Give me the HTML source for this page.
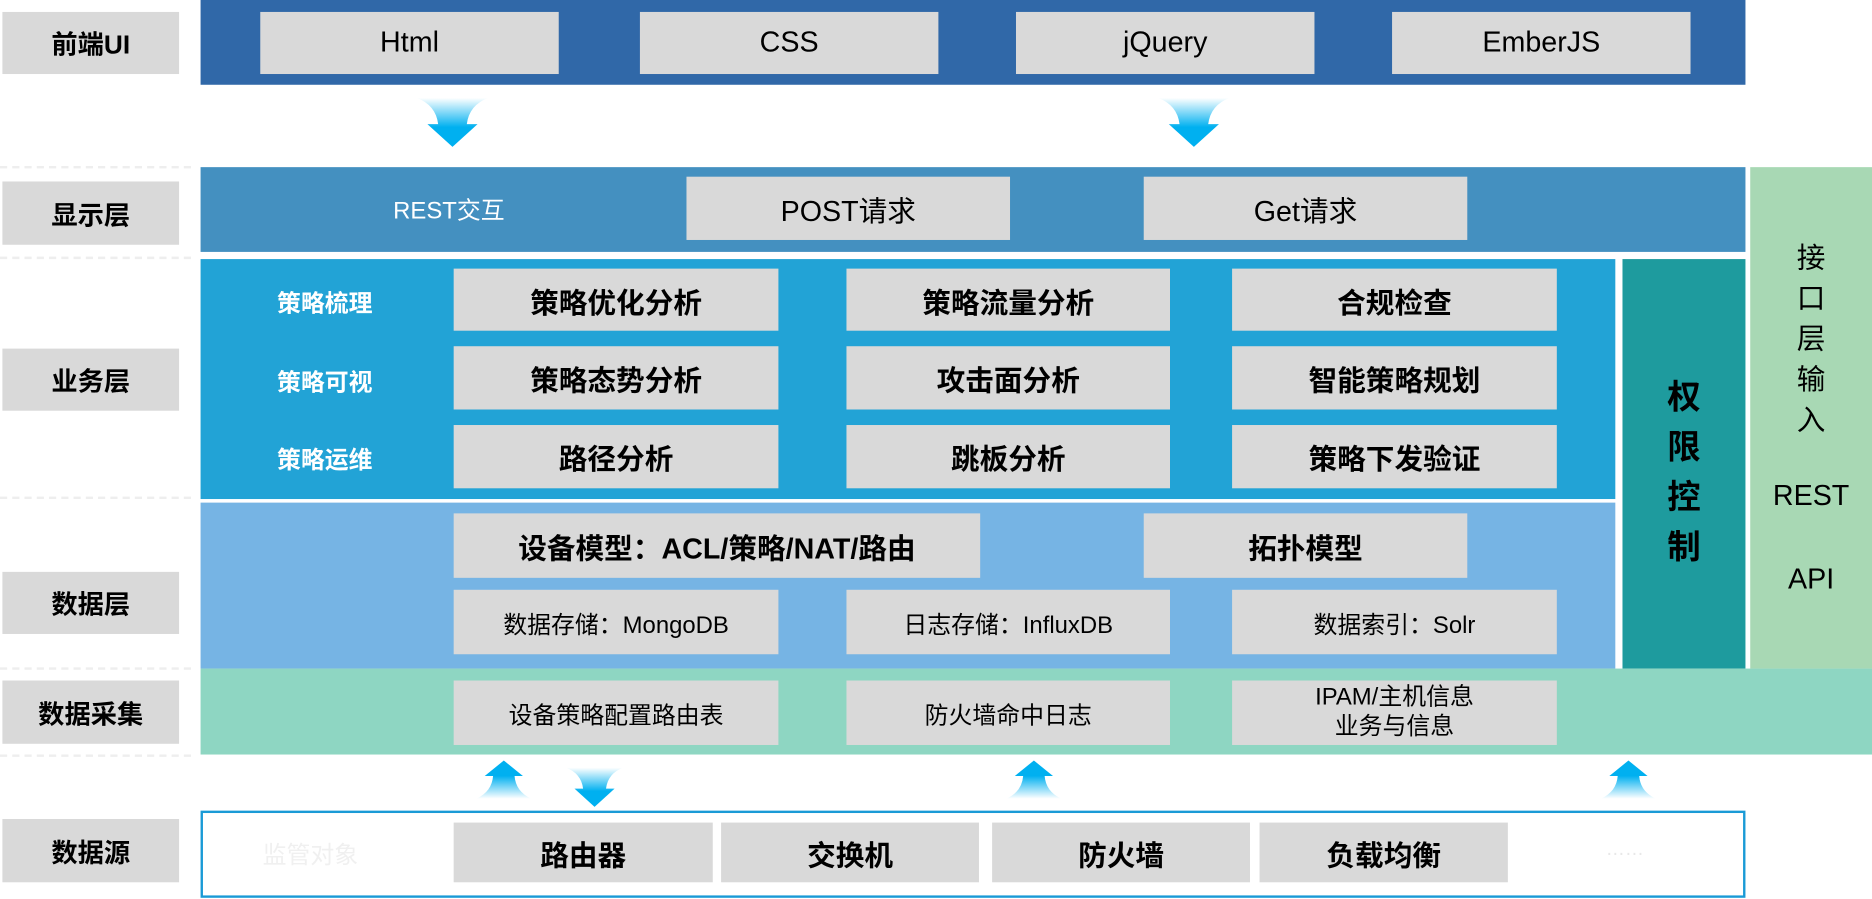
<!DOCTYPE html>
<html><head><meta charset="utf-8"><style>
html,body{margin:0;padding:0;background:#fff;overflow:hidden}
#w{position:relative;width:1568px;height:753px;transform:scale(1.19388);transform-origin:0 0;font-family:"Liberation Sans","Noto Sans CJK SC",sans-serif}
.a{position:absolute;box-sizing:border-box}
.b{position:absolute;background:#d9d9d9;display:flex;align-items:center;justify-content:center;color:#000;text-align:center;box-sizing:border-box}
.l{font-size:22px;font-weight:bold}
.t{font-size:24px}
.k{font-size:24px;font-weight:bold}
.s{font-size:20px}
.wt{position:absolute;color:#fff;font-size:20px;font-weight:bold}
.d{position:absolute;left:0;width:160px;border-top:2px dashed #eee}
</style></head><body><div id="w">
<!-- left labels -->
<div class="b l" style="left:2px;top:10px;width:148px;height:52px">前端UI</div>
<div class="b l" style="left:2px;top:152px;width:148px;height:53px">显示层</div>
<div class="b l" style="left:2px;top:292px;width:148px;height:52px">业务层</div>
<div class="b l" style="left:2px;top:479px;width:148px;height:52px">数据层</div>
<div class="b l" style="left:2px;top:570px;width:148px;height:53px">数据采集</div>
<div class="b l" style="left:2px;top:686px;width:148px;height:53px">数据源</div>
<div class="d" style="top:139px"></div><div class="d" style="top:215px"></div><div class="d" style="top:416px"></div><div class="d" style="top:559px"></div><div class="d" style="top:632px"></div>

<!-- front UI -->
<div class="a" style="left:168px;top:0;width:1294px;height:71px;background:#3068a8"></div>
<div class="b t" style="left:218px;top:10px;width:250px;height:52px">Html</div>
<div class="b t" style="left:536px;top:10px;width:250px;height:52px">CSS</div>
<div class="b t" style="left:851px;top:10px;width:250px;height:52px">jQuery</div>
<div class="b t" style="left:1166px;top:10px;width:250px;height:52px">EmberJS</div>

<svg class="a" style="left:0;top:0" width="1568" height="753">
<defs>
<linearGradient id="gd" x1="0" y1="0" x2="0" y2="1"><stop offset="0" stop-color="#fff"/><stop offset="0.6" stop-color="#00b0f0"/><stop offset="1" stop-color="#00b0f0"/></linearGradient>
<linearGradient id="gu" x1="0" y1="1" x2="0" y2="0"><stop offset="0" stop-color="#fff"/><stop offset="0.6" stop-color="#00b0f0"/><stop offset="1" stop-color="#00b0f0"/></linearGradient>
<path id="dn" d="M-30,0 L30,0 Q14,6 12,22 L21,22 L0,41 L-21,22 L-12,22 Q-14,6 -30,0 Z"/>
<path id="up" d="M-23,32 L23,32 Q10,26 9,13 L16,13 L0,0 L-16,13 L-9,13 Q-10,26 -23,32 Z"/>
</defs>
<use href="#dn" x="379" y="82" fill="url(#gd)"/>
<use href="#dn" x="1000" y="82" fill="url(#gd)"/>
<use href="#up" x="422" y="637" fill="url(#gu)"/>
<use href="#up" x="866" y="637" fill="url(#gu)"/>
<use href="#up" x="1364" y="637" fill="url(#gu)"/>
<g transform="translate(498,643) scale(0.8)"><use href="#dn" fill="url(#gd)"/></g>
</svg>

<!-- display layer -->
<div class="a" style="left:168px;top:140px;width:1294px;height:71px;background:#4490c0"></div>
<div class="wt" style="left:300px;top:160px;width:152px;text-align:center;font-weight:normal">REST交互</div>
<div class="b t" style="left:575px;top:148px;width:271px;height:53px">POST请求</div>
<div class="b t" style="left:958px;top:148px;width:271px;height:53px">Get请求</div>

<!-- interface column -->
<div class="a" style="left:1466px;top:140px;width:102px;height:420px;background:#a8d8b4"></div>
<div class="a" style="left:1466px;top:200px;width:102px;text-align:center;font-size:24px;line-height:34px">接<br>口<br>层<br>输<br>入</div>
<div class="a" style="left:1466px;top:402px;width:102px;text-align:center;font-size:24px">REST</div>
<div class="a" style="left:1466px;top:472px;width:102px;text-align:center;font-size:24px">API</div>

<!-- business -->
<div class="a" style="left:168px;top:217px;width:1185px;height:201px;background:#22a3d6"></div>
<div class="wt" style="left:232px;top:238px">策略梳理</div>
<div class="wt" style="left:232px;top:304px">策略可视</div>
<div class="wt" style="left:232px;top:369px">策略运维</div>
<div class="b k" style="left:380px;top:225px;width:272px;height:52px">策略优化分析</div>
<div class="b k" style="left:709px;top:225px;width:271px;height:52px">策略流量分析</div>
<div class="b k" style="left:1032px;top:225px;width:272px;height:52px">合规检查</div>
<div class="b k" style="left:380px;top:290px;width:272px;height:53px">策略态势分析</div>
<div class="b k" style="left:709px;top:290px;width:271px;height:53px">攻击面分析</div>
<div class="b k" style="left:1032px;top:290px;width:272px;height:53px">智能策略规划</div>
<div class="b k" style="left:380px;top:356px;width:272px;height:53px">路径分析</div>
<div class="b k" style="left:709px;top:356px;width:271px;height:53px">跳板分析</div>
<div class="b k" style="left:1032px;top:356px;width:272px;height:53px">策略下发验证</div>

<!-- auth -->
<div class="a" style="left:1359px;top:217px;width:103px;height:343px;background:#1e9b9e"></div>
<div class="a" style="left:1359px;top:312px;width:103px;text-align:center;font-size:28px;font-weight:bold;line-height:42px">权<br>限<br>控<br>制</div>

<!-- data -->
<div class="a" style="left:168px;top:421px;width:1185px;height:139px;background:#76b4e4"></div>
<div class="b k" style="left:380px;top:430px;width:441px;height:54px;font-weight:bold">设备模型：ACL/策略/NAT/路由</div>
<div class="b k" style="left:958px;top:430px;width:271px;height:54px">拓扑模型</div>
<div class="b s" style="left:380px;top:494px;width:272px;height:54px">数据存储：MongoDB</div>
<div class="b s" style="left:709px;top:494px;width:271px;height:54px">日志存储：InfluxDB</div>
<div class="b s" style="left:1032px;top:494px;width:272px;height:54px">数据索引：Solr</div>

<!-- collection -->
<div class="a" style="left:168px;top:560px;width:1400px;height:72px;background:#8ed6c2"></div>
<div class="b s" style="left:380px;top:570px;width:272px;height:54px">设备策略配置路由表</div>
<div class="b s" style="left:709px;top:570px;width:271px;height:54px">防火墙命中日志</div>
<div class="b s" style="left:1032px;top:570px;width:272px;height:54px;line-height:25px">IPAM/主机信息<br>业务与信息</div>

<!-- source -->
<div class="a" style="left:168px;top:679px;width:1294px;height:73px;border:2px solid #1a9ad6"></div>
<div class="a" style="left:220px;top:700px;font-size:20px;color:#f0f0f0">监管对象</div>
<div class="b k" style="left:380px;top:689px;width:217px;height:50px">路由器</div>
<div class="b k" style="left:604px;top:689px;width:216px;height:50px">交换机</div>
<div class="b k" style="left:831px;top:689px;width:216px;height:50px">防火墙</div>
<div class="b k" style="left:1055px;top:689px;width:208px;height:50px">负载均衡</div>
<div class="a" style="left:1345px;top:703px;font-size:16px;color:#e8e8e8">……</div>
</div></body></html>
